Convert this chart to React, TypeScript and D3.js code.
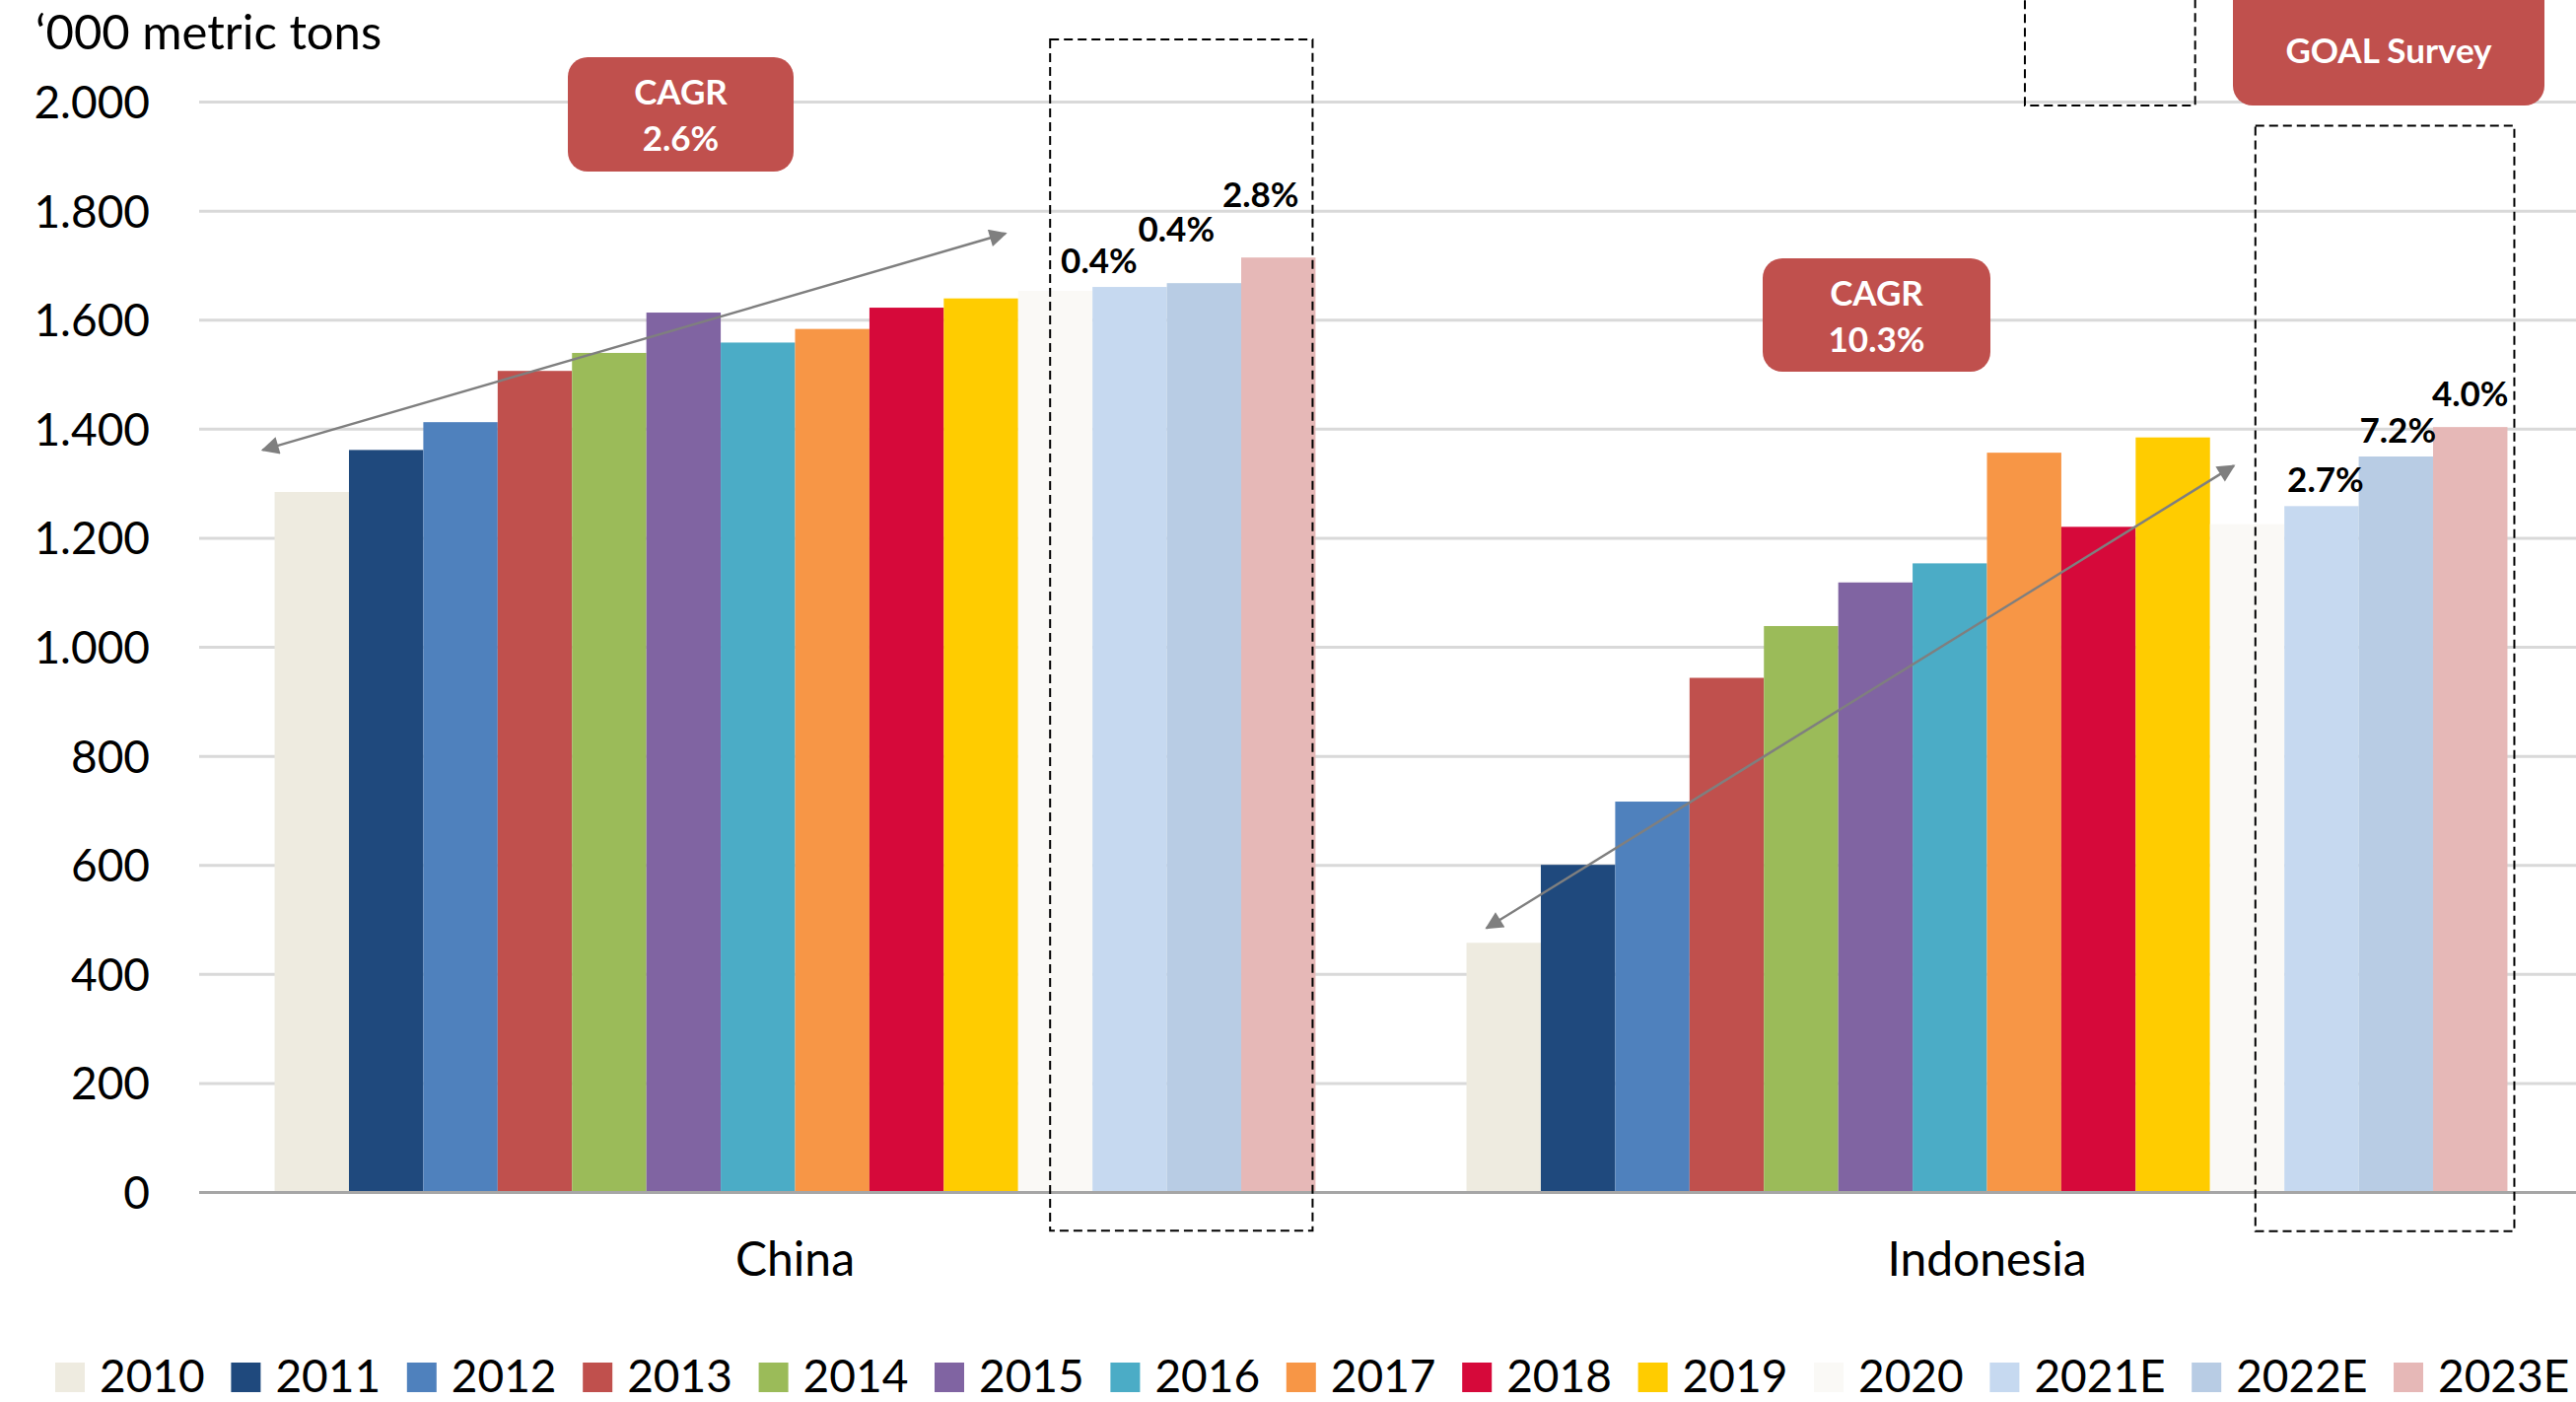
import React from 'react';
import * as d3 from 'd3';

// ---------- data ----------
const categories = ['China', 'Indonesia'];
const years = ['2010', '2011', '2012', '2013', '2014', '2015', '2016', '2017', '2018', '2019', '2020', '2021E', '2022E', '2023E'];
const chinaValues = [1285, 1362, 1413, 1507, 1540, 1614, 1559, 1584, 1623, 1640, 1654, 1661, 1668, 1715];
const indonesiaValues = [458, 601, 717, 944, 1039, 1119, 1154, 1357, 1221, 1385, 1226, 1259, 1350, 1404];
const yearColors = ['#EEEBE0', '#1F497D', '#4F81BD', '#C0504D', '#9BBB59', '#8064A2', '#4BACC6', '#F79646', '#D6093A', '#FFCC00', '#FAF9F6', '#C6D9F0', '#B8CCE4', '#E6B8B7'];
const yTicks = [0, 200, 400, 600, 800, 1000, 1200, 1400, 1600, 1800, 2000];
const growthCategory = ['China', 'China', 'China', 'Indonesia', 'Indonesia', 'Indonesia'];
const growthYear = ['2021E', '2022E', '2023E', '2021E', '2022E', '2023E'];
const growthText = ['0.4%', '0.4%', '2.8%', '2.7%', '7.2%', '4.0%'];
const cagrText = ['2.6%', '10.3%'];
const unitLabel = '\u2018000 metric tons';
const surveyLabel = 'GOAL Survey';

// ---------- layout ----------
const W = 2613;
const H = 1422;
const FONT = "Lato, 'Open Sans', sans-serif";
const plotLeft = 202;
const plotRight = 2620;
const yZero = 1209.5;
const yTop = 103.6;

const valuesByCat: Record<string, number[]> = { China: chinaValues, Indonesia: indonesiaValues };

const fmt = d3.formatLocale({ decimal: ',', thousands: '.', grouping: [3], currency: ['', ''] }).format(',d');

export default function App() {
  React.useEffect(() => {
    document.body.style.margin = '0';
  }, []);

  const x0 = d3.scaleBand<string>().domain(categories).range([plotLeft, plotRight]).paddingInner(0).paddingOuter(0);
  const x1 = d3.scaleBand<string>().domain(years).range([0, x0.bandwidth()]).paddingInner(0).paddingOuter(1.015);
  const y = d3.scaleLinear().domain([0, 2000]).range([yZero, yTop]);
  const bw = x1.bandwidth();

  const barX = (cat: string, yr: string, frac = 0) => (x0(cat) as number) + (x1(yr) as number) + frac * bw;

  // legend layout (Excel-like spacing: swatch, gap, text, gap)
  let lx = 56;
  const legendItems = years.map((yr, i) => {
    const item = { yr, x: lx, color: yearColors[i] };
    lx += 30 + 15 + yr.length * 26.4 + 27.8;
    return item;
  });

  // China growth labels placed manually in source; Indonesia roughly centered
  const growthDx = [-31, -28, -18, 4, 2, 0];
  const growthAbove = [14, 42, 51.5, 14, 14, 21.6];

  const arrowColor = '#7F7F7F';
  const legendBase = 1412;

  return (
    <svg width={W} height={H} style={{ display: 'block', position: 'absolute', left: 0, top: 0, background: '#fff' }} fontFamily={FONT}>
      <defs>
        <marker id="ah" viewBox="0 0 10 10" refX="9" refY="5" markerWidth="24" markerHeight="18" markerUnits="userSpaceOnUse" orient="auto-start-reverse">
          <path d="M0,0 L10,5 L0,10 Z" fill={arrowColor} />
        </marker>
      </defs>

      {/* gridlines */}
      {yTicks.filter((t) => t > 0).map((t) => (
        <line key={t} x1={plotLeft} x2={W} y1={y(t)} y2={y(t)} stroke="#D9D9D9" strokeWidth={3} />
      ))}

      {/* y tick labels */}
      {yTicks.map((t) => (
        <text key={t} x={152} y={y(t) + 16.5} textAnchor="end" fontSize={46} fill="#000">
          {fmt(t)}
        </text>
      ))}
      <text x={36} y={50} fontSize={49} fill="#000">{unitLabel}</text>

      {/* bars */}
      {categories.map((cat) =>
        years.map((yr, i) => {
          const v = valuesByCat[cat][i];
          return (
            <rect key={cat + yr} x={barX(cat, yr)} y={y(v)} width={bw} height={y(0) - y(v)} fill={yearColors[i]} />
          );
        })
      )}

      {/* baseline */}
      <line x1={plotLeft} x2={W} y1={y(0)} y2={y(0)} stroke="#A6A6A6" strokeWidth={3} />

      {/* category labels */}
      {categories.map((cat) => (
        <text key={cat} x={(x0(cat) as number) + x0.bandwidth() / 2} y={1294} textAnchor="middle" fontSize={48} fill="#000">
          {cat}
        </text>
      ))}

      {/* growth labels */}
      {growthText.map((t, i) => {
        const cat = growthCategory[i];
        const yr = growthYear[i];
        const v = valuesByCat[cat][years.indexOf(yr)];
        return (
          <text key={i} x={barX(cat, yr, 0.5) + growthDx[i]} y={y(v) - growthAbove[i]} textAnchor="middle" fontSize={35} fontWeight={700} fill="#000">
            {t}
          </text>
        );
      })}

      {/* dashed forecast boxes */}
      <rect x={barX('China', '2020', 0.43)} y={y(2115)} width={barX('China', '2023E', 1) - 3 - barX('China', '2020', 0.43)} height={y(-70) - y(2115)} fill="none" stroke="#000" strokeWidth={2} strokeDasharray="9,5" />
      <rect x={barX('Indonesia', '2020', 0.61)} y={y(1957)} width={barX('Indonesia', '2023E', 1) + 7 - barX('Indonesia', '2020', 0.61)} height={y(-71) - y(1957)} fill="none" stroke="#000" strokeWidth={2} strokeDasharray="9,5" />
      <rect x={barX('Indonesia', '2017', 0.51)} y={-10} width={barX('Indonesia', '2019', 0.8) - barX('Indonesia', '2017', 0.51)} height={y(1994) + 10} fill="none" stroke="#000" strokeWidth={2} strokeDasharray="9,5" />

      {/* CAGR arrows */}
      <line x1={barX('China', '2010', -0.16)} y1={y(1362)} x2={barX('China', '2019', 0.83)} y2={y(1759)} stroke={arrowColor} strokeWidth={2.5} markerStart="url(#ah)" markerEnd="url(#ah)" />
      <line x1={barX('Indonesia', '2010', 0.27)} y1={y(485)} x2={barX('Indonesia', '2020', 0.32)} y2={y(1333)} stroke={arrowColor} strokeWidth={2.5} markerStart="url(#ah)" markerEnd="url(#ah)" />

      {/* CAGR boxes */}
      {[
        { x: 576, y: 58, w: 229, h: 116 },
        { x: 1788, y: 262, w: 231, h: 115 },
      ].map((b, i) => (
        <g key={i}>
          <rect x={b.x} y={b.y} width={b.w} height={b.h} rx={20} ry={20} fill="#C0504D" />
          <text x={b.x + b.w / 2} y={b.y + 48} textAnchor="middle" fontSize={35} fontWeight={700} fill="#fff">CAGR</text>
          <text x={b.x + b.w / 2} y={b.y + 95} textAnchor="middle" fontSize={35} fontWeight={700} fill="#fff">{cagrText[i]}</text>
        </g>
      ))}

      {/* GOAL Survey box */}
      <rect x={2265} y={-20} width={316} height={127} rx={20} ry={20} fill="#C0504D" />
      <text x={2423} y={64} textAnchor="middle" fontSize={35} fontWeight={700} fill="#fff">{surveyLabel}</text>

      {/* legend */}
      {legendItems.map((it) => (
        <g key={it.yr}>
          <rect x={it.x} y={legendBase - 30} width={30} height={30} fill={it.color} />
          <text x={it.x + 45} y={legendBase} fontSize={46} fill="#000">{it.yr}</text>
        </g>
      ))}
    </svg>
  );
}
